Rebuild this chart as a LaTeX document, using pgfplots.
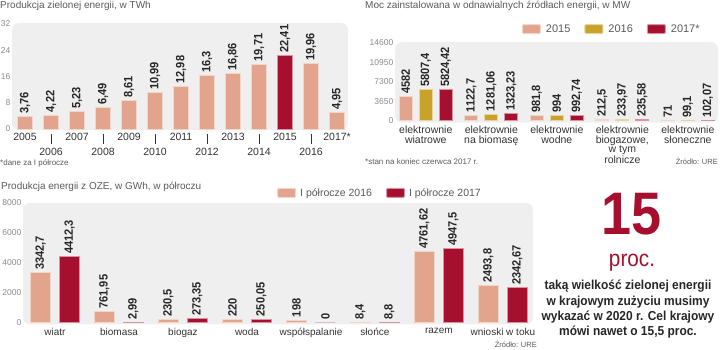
\documentclass[border=0pt]{standalone}
\usepackage{fontspec}
\setmainfont{Liberation Sans}
\newfontfamily\valfont[FakeStretch=0.92]{Liberation Sans}
\newfontfamily\bigfont[FakeStretch=0.9]{Liberation Sans}
\usepackage{pgfplots}
\usepackage{pgfplotstable}
\pgfplotsset{compat=1.18}
\definecolor{salm}{HTML}{E2A48D}
\definecolor{crim}{HTML}{A6102E}
\definecolor{must}{HTML}{C9A22A}
\definecolor{bgg}{HTML}{EFEFEF}
\definecolor{ttl}{HTML}{5A5A5A}
\definecolor{tck}{HTML}{8A8A8A}
\definecolor{lab}{HTML}{333333}

\pgfplotstableread{
x y lab
0 3.76 3,76
1 4.22 4,22
2 5.23 5,23
3 6.49 6,49
4 8.61 8,61
5 10.99 10,99
6 12.98 12,98
7 16.3 16,3
8 16.86 16,86
9 19.71 19,71
11 19.96 19,96
12 4.95 4,95
}\tabA
\pgfplotstableread{
x y lab
10 22.41 22,41
}\tabAred

\pgfplotstableread{
x y lab
0 4582 4582
1 1122.7 1122,7
2 981.8 981,8
3 212.5 212,5
4 71 71
}\tabBa
\pgfplotstableread{
x y lab
0 5807.4 5807,4
1 1281.06 1281,06
2 994 994
3 233.97 233,97
4 99.1 99,1
}\tabBb
\pgfplotstableread{
x y lab
0 5824.42 5824,42
1 1323.23 1323,23
2 992.74 992,74
3 235.58 235,58
4 102.07 102,07
}\tabBc

\pgfplotstableread{
x y lab
0 3342.7 3342,7
1 761.95 761,95
2 230.5 230,5
3 220 220
4 198 198
5 8.4 8,4
6 4761.62 4761,62
7 2493.8 2493,8
}\tabCa
\pgfplotstableread{
x y lab
0 4412.3 4412,3
1 2.99 2,99
2 273.35 273,35
3 250.05 250,05
4 0 0
5 8.8 8,8
6 4947.5 4947,5
7 2342.67 2342,67
}\tabCb

\pgfplotsset{
  panel/.style={
    scale only axis,
    axis line style={draw=none},
    tick style={draw=none},
    major tick length=0pt,
    axis background/.style={fill=bgg, rounded corners=7pt},
    /pgf/number format/assume math mode=true,
    /pgf/number format/1000 sep={},
    scaled y ticks=false,
    yticklabel style={font=\fontsize{8.5}{9}\selectfont, text=tck, inner sep=1.5pt},
    xticklabel style={font=\fontsize{10.5}{12}\selectfont, text=lab},
    point meta=explicit symbolic,
    nodes near coords={\rotatebox{90}{\pgfplotspointmeta}},
    every node near coord/.append style={anchor=south, font=\valfont\bfseries\fontsize{12}{12}\selectfont, text=black!85, inner sep=2.5pt},
    clip=false,
  },
  salmbar/.style={fill=salm, draw=salm!45!white, line width=1pt},
  crimbar/.style={fill=crim, draw=crim!45!white, line width=1pt},
  mustbar/.style={fill=must, draw=must!45!white, line width=1pt},
  boxlegend/.style={legend image code/.code={\draw[##1, rounded corners=1pt] (0pt,-4.5pt) rectangle (18pt,4.5pt);}},
}
\newcommand{\tl}{\textcolor{lab}{\rule[-2pt]{0.7pt}{10pt}}}

\begin{document}
\begin{tikzpicture}
\path[use as bounding box] (0,0) rectangle (720pt,350pt);

% ---------- Panel 1 ----------
\node[anchor=base west, font=\fontsize{10}{12}\selectfont, text=ttl, inner sep=0] at (0pt,341pt) {Produkcja zielonej energii, w TWh};
\begin{axis}[panel, at={(12pt,220pt)}, anchor=south west, width=336pt, height=107pt,
  xmin=-0.5, xmax=12.42, ymin=-0.3, ymax=32.3, ytick={0,8,16,24,32},
  xtick={0,...,12},
  xticklabels={2005,{\tl\\2006},2007,{\tl\\2008},2009,{\tl\\2010},2011,{\tl\\2012},2013,{\tl\\2014},2015,{\tl\\2016},2017*},
  xticklabel style={align=center, anchor=north, font=\fontsize{10.5}{14}\selectfont},
  ybar, bar width=15pt, bar shift=0pt]
\addplot[salmbar] table[x=x, y=y, meta=lab] {\tabA};
\addplot[crimbar] table[x=x, y=y, meta=lab] {\tabAred};
\end{axis}
\node[anchor=base west, font=\fontsize{8}{9}\selectfont, text=ttl, inner sep=0] at (0pt,184pt) {*dane za I półrocze};

% ---------- Panel 2 ----------
\node[anchor=base west, font=\fontsize{10}{12}\selectfont, text=ttl, inner sep=0] at (365pt,341pt) {Moc zainstalowana w odnawialnych źródłach energii, w MW};
\begin{axis}[panel, at={(395pt,227.4pt)}, anchor=south west, width=323pt, height=80.6pt,
  xmin=-0.47, xmax=4.46, ymin=-300, ymax=14800, ytick={0,3650,7300,10950,14600},
  xtick={0,...,4},
  xticklabels={{elektrownie\\wiatrowe},{elektrownie\\na biomasę},{elektrownie\\wodne},{elektrownie\\biogazowe,\\w tym\\rolnicze},{elektrownie\\słoneczne}},
  xticklabel style={align=center, anchor=north, font=\fontsize{10.5}{9.5}\selectfont},
  ybar=7pt, bar width=13pt, boxlegend,
  legend columns=3,
  legend style={at={(axis description cs:0.95,1.161)}, anchor=east, draw=none, fill=none, inner sep=0pt,
    font=\fontsize{11}{12}\selectfont, text=ttl,
    /tikz/every odd column/.append style={column sep=3pt},
    /tikz/every even column/.append style={column sep=12pt}},
  ]
\addplot[salmbar] table[x=x, y=y, meta=lab] {\tabBa};
\addplot[mustbar] table[x=x, y=y, meta=lab] {\tabBb};
\addplot[crimbar] table[x=x, y=y, meta=lab] {\tabBc};
\legend{2015,2016,2017*}
\end{axis}
\node[anchor=base west, font=\fontsize{8}{9}\selectfont, text=ttl, inner sep=0] at (365pt,185pt) {*stan na koniec czerwca 2017 r.};
\node[anchor=base east, font=\fontsize{7.5}{9}\selectfont, text=ttl, inner sep=0] at (718pt,185pt) {Źródło: URE};

% ---------- Panel 3 ----------
\node[anchor=base west, font=\fontsize{10}{12}\selectfont, text=ttl, inner sep=0] at (1pt,160pt) {Produkcja energii z OZE, w GWh, w półroczu};
\begin{axis}[panel, at={(23pt,25.5pt)}, anchor=south west, width=510pt, height=121.5pt,
  xmin=-0.5, xmax=7.47, ymin=-100, ymax=8000, ytick={0,2000,4000,6000,8000},
  xtick={0,...,7},
  xticklabels={wiatr,biomasa,biogaz,woda,współspalanie,słońce,razem,wnioski w toku},
  xticklabel style={font=\fontsize{10}{12}\selectfont},
  ybar=9pt, bar width=20pt, boxlegend,
  legend columns=2,
  legend style={at={(axis description cs:0.902,1.083)}, anchor=east, draw=none, fill=none, inner sep=0pt,
    font=\fontsize{10.5}{12}\selectfont, text=ttl,
    /tikz/every odd column/.append style={column sep=2pt},
    /tikz/every even column/.append style={column sep=12pt}},
  ]
\addplot[salmbar] table[x=x, y=y, meta=lab] {\tabCa};
\addplot[crimbar] table[x=x, y=y, meta=lab] {\tabCb};
\legend{I półrocze 2016,I półrocze 2017}
\end{axis}
\node[anchor=base east, font=\fontsize{7.5}{9}\selectfont, text=ttl, inner sep=0] at (537pt,2pt) {Źródło: URE};

% ---------- Right text ----------
\node[anchor=base, text=crim, font=\bigfont\bfseries\fontsize{60}{60}\selectfont, inner sep=0] at (632pt,115pt) {15};
\node[anchor=base, text=crim, font=\bigfont\fontsize{23}{23}\selectfont, inner sep=0] at (632pt,83pt) {proc.};
\node[anchor=base, font=\valfont\bfseries\fontsize{13}{13}\selectfont, text=black!85, inner sep=0] at (628pt,60pt) {taką wielkość zielonej energii};
\node[anchor=base, font=\valfont\bfseries\fontsize{13}{13}\selectfont, text=black!85, inner sep=0] at (628pt,44.7pt) {w krajowym zużyciu musimy};
\node[anchor=base, font=\valfont\bfseries\fontsize{13}{13}\selectfont, text=black!85, inner sep=0] at (628pt,29.4pt) {wykazać w 2020 r. Cel krajowy};
\node[anchor=base, font=\valfont\bfseries\fontsize{13}{13}\selectfont, text=black!85, inner sep=0] at (628pt,14.1pt) {mówi nawet o 15,5 proc.};
\end{tikzpicture}
\end{document}
